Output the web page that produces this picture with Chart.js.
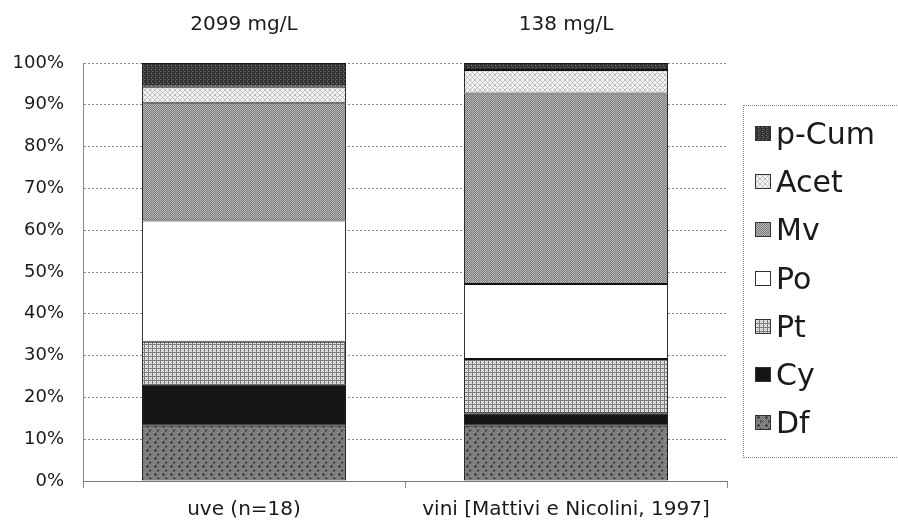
<!DOCTYPE html>
<html>
<head>
<meta charset="utf-8">
<script src="https://cdn.jsdelivr.net/npm/chart.js@4/dist/chart.umd.min.js"></script>
<style>
  html, body { margin: 0; padding: 0; background: #fff; }
  #wrap { position: relative; width: 898px; height: 527px; overflow: hidden; }
  #legend {
    position: absolute; left: 743px; top: 105px; width: 220px;
    border: 1px dotted #888; padding: 3px 0 10px 11px; box-sizing: border-box;
    font-family: "DejaVu Sans", sans-serif; font-size: 30px; color: #1a1a1a;
  }
  .row { height: 48.3px; display: flex; align-items: center; }
  .row canvas { width: 16px; height: 15px; margin-right: 5px; }
</style>
</head>
<body>
<div id="wrap">
  <canvas id="c" width="898" height="527"></canvas>
  <div id="legend"></div>
</div>
<script>
// Categories and totals shown above each column
const categories = ['uve (n=18)', 'vini [Mattivi e Nicolini, 1997]'];
const totals = ['2099 mg/L', '138 mg/L'];

// Anthocyanin composition, % of total (bottom to top)
const series = ['Df', 'Cy', 'Pt', 'Po', 'Mv', 'Acet', 'p-Cum'];
const Df   = [13.2, 13.2];
const Cy   = [9.8, 3.0];
const Pt   = [10.3, 13.0];
const Po   = [29.0, 17.9];
const Mv   = [28.1, 45.6];
const Acet = [3.9, 5.6];
const pCum = [5.7, 1.7];
const values = [Df, Cy, Pt, Po, Mv, Acet, pCum];

const yTicks = [0, 10, 20, 30, 40, 50, 60, 70, 80, 90, 100];

// Small halftone-like fills built from pixel maps
function makePattern(rows, palette) {
  const h = rows.length, w = rows[0].length;
  const cv = document.createElement('canvas');
  cv.width = w; cv.height = h;
  const g = cv.getContext('2d');
  for (let y = 0; y < h; y++) {
    for (let x = 0; x < w; x++) {
      g.fillStyle = palette[rows[y][x]];
      g.fillRect(x, y, 1, 1);
    }
  }
  return g.createPattern(cv, 'repeat');
}

const fills = {
  'Df': makePattern([
    'abababab',
    'babcbaba',
    'abcccbab',
    'babcbaba',
    'abababab',
    'bababcba',
    'abababcc',
    'bababcba'
  ], { a: '#929292', b: '#6e6e6e', c: '#3c3c3c' }),
  'Cy': '#151515',
  'Pt': makePattern([
    'bbbb',
    'baca',
    'bcac',
    'baca'
  ], { a: '#eeeeee', b: '#7a7a7a', c: '#c4c4c4' }),
  'Po': '#ffffff',
  'Mv': makePattern([
    'abab',
    'baba',
    'abac',
    'baba'
  ], { a: '#b8b8b8', b: '#7e7e7e', c: '#666666' }),
  'Acet': makePattern([
    'baaab',
    'ababa',
    'aabaa',
    'ababa',
    'baaab'
  ], { a: '#f4f4f4', b: '#bdbdbd' }),
  'p-Cum': makePattern([
    'abab',
    'babc',
    'abab',
    'cbab'
  ], { a: '#262626', b: '#424242', c: '#707070' })
};

const datasets = series.map((name, i) => ({
  label: name,
  data: values[i],
  backgroundColor: fills[name],
  borderColor: '#111',
  borderWidth: 1,
  borderSkipped: false,
  categoryPercentage: 1.0,
  barPercentage: 0.634,
  xAxisID: 'x'
}));

const FONT = '"DejaVu Sans", sans-serif';

new Chart(document.getElementById('c'), {
  type: 'bar',
  data: { labels: categories, datasets },
  options: {
    responsive: false,
    animation: false,
    layout: { padding: { left: 0, right: 171, top: 0, bottom: 0 } },
    plugins: { legend: { display: false }, tooltip: { enabled: false } },
    scales: {
      x: {
        stacked: true,
        offset: true,
        grid: { drawOnChartArea: false, drawTicks: true, tickLength: 7, color: '#888', offset: true },
        border: { display: true, color: '#777', width: 1 },
        ticks: { color: '#1a1a1a', font: { family: FONT, size: 20 }, padding: 10, maxRotation: 0 },
        afterFit: s => { s.height = 46; }
      },
      xTop: {
        type: 'category',
        position: 'top',
        labels: totals,
        offset: true,
        grid: { display: false, drawTicks: false },
        border: { display: false },
        ticks: { color: '#1a1a1a', font: { family: FONT, size: 20 }, padding: 26, maxRotation: 0 },
        afterFit: s => { s.height = 63; }
      },
      y: {
        stacked: true,
        min: 0,
        max: 100,
        afterBuildTicks: s => { s.ticks = yTicks.map(v => ({ value: v })); },
        grid: { color: '#8a8a8a', lineWidth: 1, drawTicks: false },
        border: { display: true, color: '#888', dash: [2, 2] },
        ticks: { color: '#1a1a1a', font: { family: FONT, size: 18 }, padding: 19, callback: v => v + '%' },
        afterFit: s => { s.width = 83; }
      }
    }
  }
});

// Legend, top series first
const legend = document.getElementById('legend');
series.slice().reverse().forEach(name => {
  const row = document.createElement('div');
  row.className = 'row';
  const sw = document.createElement('canvas');
  sw.width = 16; sw.height = 15;
  const g = sw.getContext('2d');
  g.fillStyle = fills[name];
  g.fillRect(0, 0, 16, 15);
  g.strokeStyle = '#333';
  g.lineWidth = 1;
  g.strokeRect(0.5, 0.5, 15, 14);
  row.appendChild(sw);
  const t = document.createElement('span');
  t.textContent = name;
  row.appendChild(t);
  legend.appendChild(row);
});
</script>
</body>
</html>
